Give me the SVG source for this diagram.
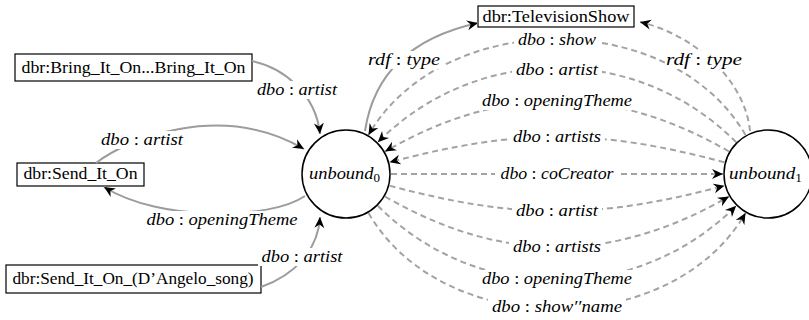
<svg xmlns="http://www.w3.org/2000/svg" width="809" height="320" viewBox="0 0 809 320">
<style>
.box{fill:#fff;stroke:#000;stroke-width:1.2}
.circ{fill:#fff;stroke:#000;stroke-width:1.5}
text{font-family:'Liberation Serif','Times New Roman',serif}
.bt{font-size:16px;fill:#000;text-anchor:middle}
.mt{font-size:16px;font-style:italic;fill:#000;text-anchor:middle}
.nt{font-size:17px;font-style:italic;fill:#000;text-anchor:start}
.up{font-style:normal}
.sol{fill:none;stroke:#9c9c9c;stroke-width:2;marker-end:url(#ah)}
.das{fill:none;stroke:#a3a3a3;stroke-width:2;stroke-dasharray:6 4;marker-end:url(#ah)}
.lb{fill:#fff}
</style>
<defs>
<marker id="ah" viewBox="-11 -6 12 12" refX="0" refY="0" markerWidth="12" markerHeight="12" markerUnits="userSpaceOnUse" orient="auto">
<path d="M0,0 L-11,-5 L-7.5,0 L-11,5 Z" fill="#000"/>
</marker>
</defs>
<rect width="809" height="320" fill="#fff"/>

<g id="node-bring">
<rect class="box" x="15" y="54" width="237" height="27"/>
<text class="bt" x="133.5" y="73" textLength="224" lengthAdjust="spacingAndGlyphs">dbr:Bring_It_On...Bring_It_On</text>
</g>
<g id="node-send">
<rect class="box" x="17" y="163" width="127" height="23"/>
<text class="bt" x="80.5" y="179" textLength="114" lengthAdjust="spacingAndGlyphs">dbr:Send_It_On</text>
</g>
<g id="node-dangelo">
<rect class="box" x="6" y="265" width="255" height="28"/>
<text class="bt" x="133" y="284" textLength="241" lengthAdjust="spacingAndGlyphs">dbr:Send_It_On_(D’Angelo_song)</text>
</g>
<g id="node-tv">
<rect class="box" x="478" y="6" width="156" height="21"/>
<text class="bt" x="556" y="21.5" textLength="147" lengthAdjust="spacingAndGlyphs">dbr:TelevisionShow</text>
</g>
<g id="node-unbound0">
<circle class="circ" cx="346" cy="174" r="44"/>
<text class="nt" x="309" y="179" textLength="71" lengthAdjust="spacingAndGlyphs">unbound<tspan class="up" font-size="12" dy="3">0</tspan></text>
</g>
<g id="node-unbound1">
<circle class="circ" cx="768" cy="174" r="44"/>
<text class="nt" x="729" y="179" textLength="73" lengthAdjust="spacingAndGlyphs">unbound<tspan class="up" font-size="12" dy="3">1</tspan></text>
</g>

<g id="connectors">
<path class="sol" d="M252,61 C285,68 316,95 320,134"/>
<path class="sol" d="M96,163 C125,140 220,100 304,149"/>
<path class="sol" d="M305,196 C270,220 160,222 104,187"/>
<path class="sol" d="M261,287 C295,275 318,250 320,217"/>
<path class="sol" d="M365,131 C372,85 400,40 478,23"/>
<path class="das" d="M750,131 C745,80 695,35 640,22"/>
<path class="das" d="M745.5,135 C671.7,7.2 442.3,7.2 368.5,135"/>
<path class="das" d="M736.2,142.2 C637,43 477,43 377.8,142.2"/>
<path class="das" d="M729,151.5 C612.3,84.15 501.7,84.15 385,151.5"/>
<path class="das" d="M724.5,162.35 C597.8,128.4 516.2,128.4 389.5,162.35"/>
<path class="das" d="M391,174 L723,174"/>
<path class="das" d="M389.5,185.65 C516.2,219.6 597.8,219.6 724.5,185.65"/>
<path class="das" d="M385,196.5 C501.7,263.85 612.3,263.85 729,196.5"/>
<path class="das" d="M377.8,205.8 C477,305 637,305 736.2,205.8"/>
<path class="das" d="M368.5,213 C442.3,340.8 671.7,340.8 745.5,213"/>

<rect class="lb" x="255" y="81" width="84" height="18"/>
<text class="mt" x="297" y="95" textLength="80" lengthAdjust="spacingAndGlyphs">dbo<tspan class="up"> : </tspan>artist</text>
<rect class="lb" x="99" y="131" width="86" height="18"/>
<text class="mt" x="142" y="145" textLength="82" lengthAdjust="spacingAndGlyphs">dbo<tspan class="up"> : </tspan>artist</text>
<rect class="lb" x="144" y="211" width="156" height="18"/>
<text class="mt" x="222" y="225" textLength="151" lengthAdjust="spacingAndGlyphs">dbo<tspan class="up"> : </tspan>openingTheme</text>
<rect class="lb" x="258" y="248" width="88" height="18"/>
<text class="mt" x="302" y="262" textLength="81" lengthAdjust="spacingAndGlyphs">dbo<tspan class="up"> : </tspan>artist</text>

<rect class="lb" x="365" y="51" width="78" height="18"/>
<text class="mt" x="404" y="65" textLength="72" lengthAdjust="spacingAndGlyphs">rdf<tspan class="up"> : </tspan>type</text>
<rect class="lb" x="665" y="51" width="78" height="18"/>
<text class="mt" x="704" y="65" textLength="76" lengthAdjust="spacingAndGlyphs">rdf<tspan class="up"> : </tspan>type</text>

<rect class="lb" x="514" y="31" width="86" height="18"/>
<text class="mt" x="557" y="45" textLength="78" lengthAdjust="spacingAndGlyphs">dbo<tspan class="up"> : </tspan>show</text>
<rect class="lb" x="512" y="61" width="90" height="18"/>
<text class="mt" x="557" y="75" textLength="82" lengthAdjust="spacingAndGlyphs">dbo<tspan class="up"> : </tspan>artist</text>
<rect class="lb" x="478" y="92" width="158" height="18"/>
<text class="mt" x="557" y="106" textLength="150" lengthAdjust="spacingAndGlyphs">dbo<tspan class="up"> : </tspan>openingTheme</text>
<rect class="lb" x="509" y="128" width="96" height="18"/>
<text class="mt" x="557" y="142" textLength="88" lengthAdjust="spacingAndGlyphs">dbo<tspan class="up"> : </tspan>artists</text>
<rect class="lb" x="495" y="165" width="124" height="18"/>
<text class="mt" x="557" y="179" textLength="113" lengthAdjust="spacingAndGlyphs">dbo<tspan class="up"> : </tspan>coCreator</text>
<rect class="lb" x="512" y="202" width="90" height="18"/>
<text class="mt" x="557" y="216" textLength="82" lengthAdjust="spacingAndGlyphs">dbo<tspan class="up"> : </tspan>artist</text>
<rect class="lb" x="509" y="238" width="96" height="18"/>
<text class="mt" x="557" y="252" textLength="88" lengthAdjust="spacingAndGlyphs">dbo<tspan class="up"> : </tspan>artists</text>
<rect class="lb" x="478" y="270" width="158" height="18"/>
<text class="mt" x="557" y="284" textLength="150" lengthAdjust="spacingAndGlyphs">dbo<tspan class="up"> : </tspan>openingTheme</text>
<rect class="lb" x="488" y="298" width="138" height="18"/>
<text class="mt" x="557" y="312" textLength="130" lengthAdjust="spacingAndGlyphs">dbo<tspan class="up"> : </tspan>show′′name</text>
</g>
</svg>
